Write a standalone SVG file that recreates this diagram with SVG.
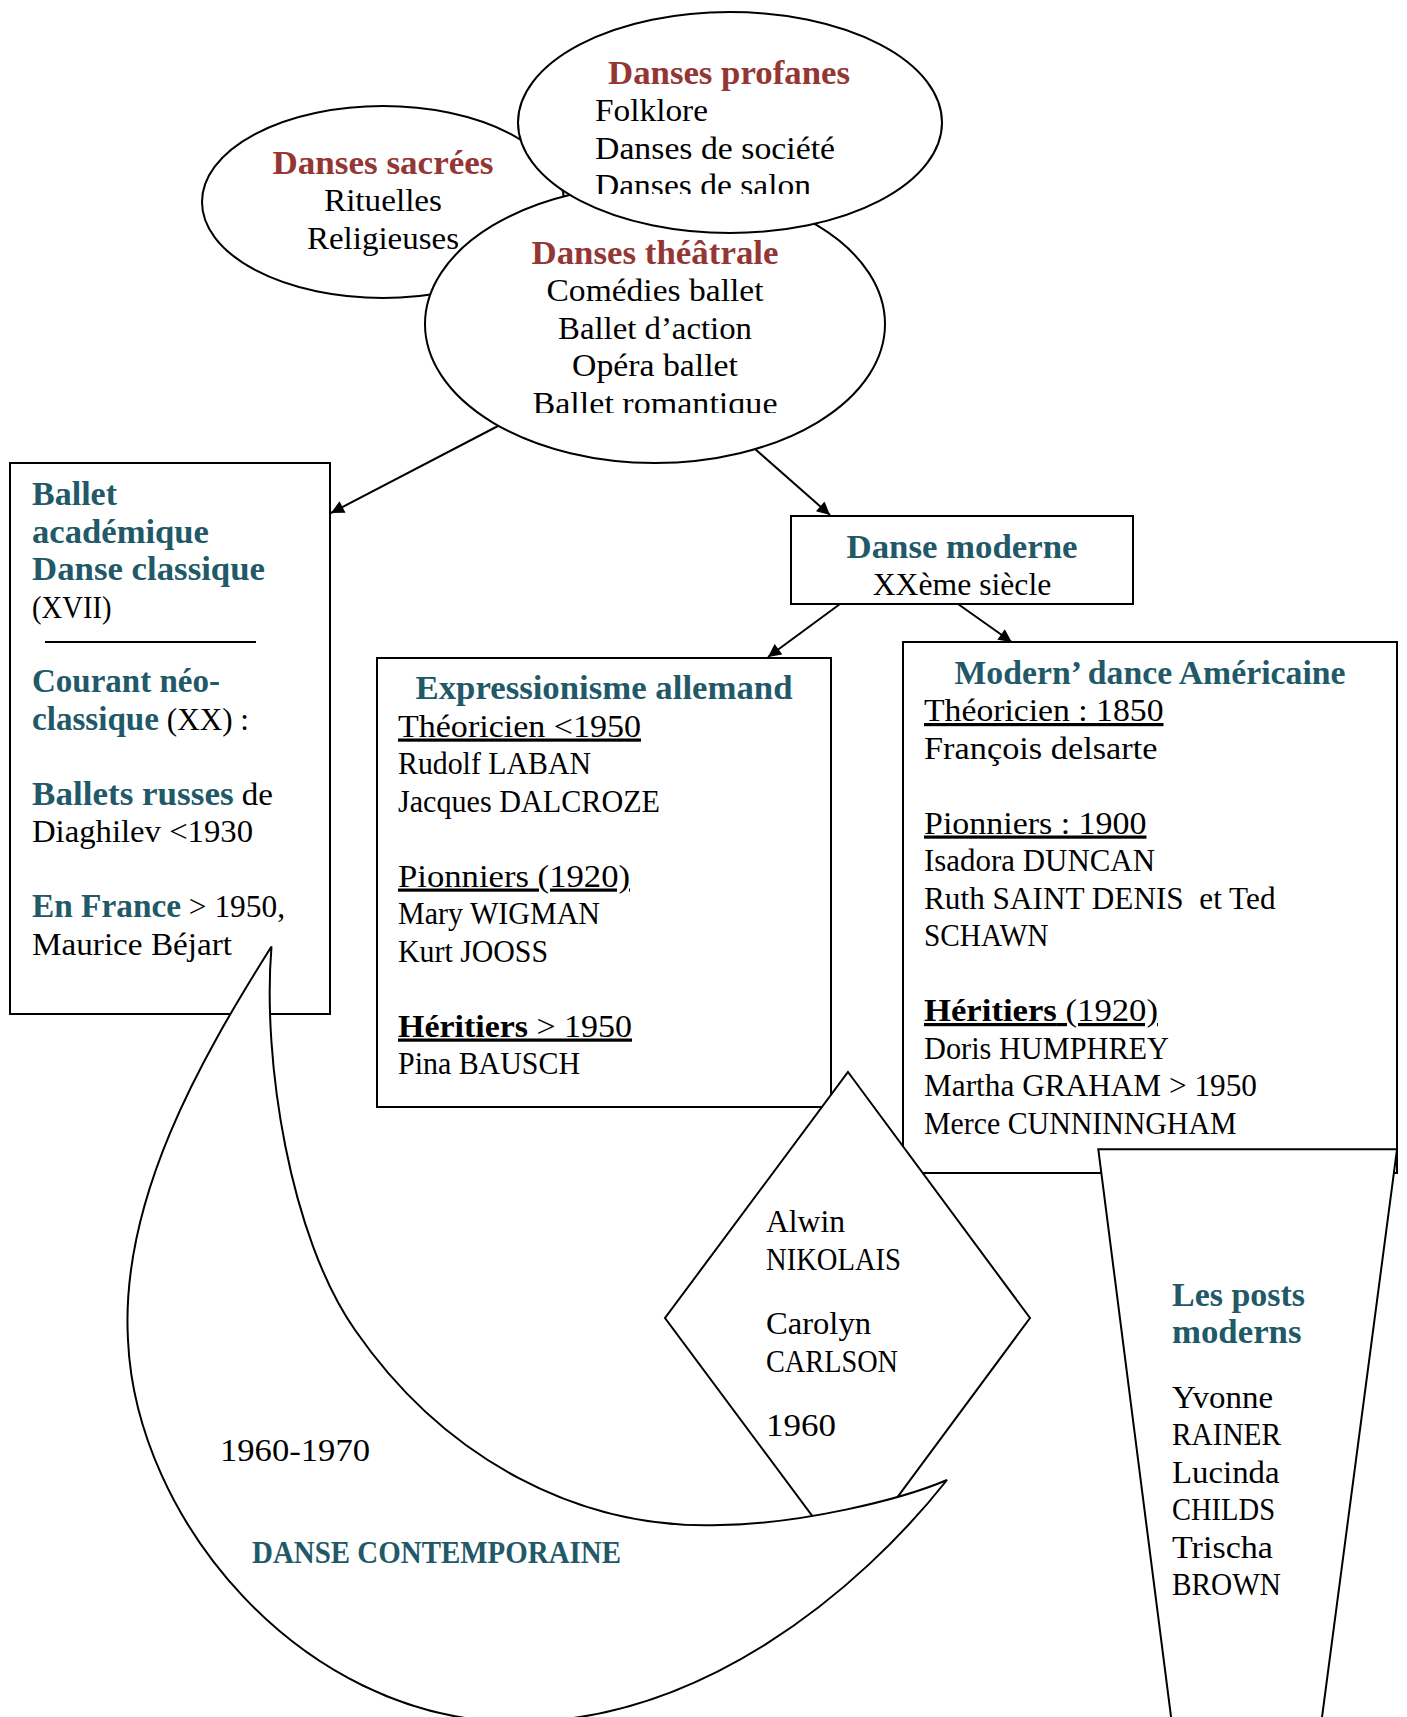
<svg xmlns="http://www.w3.org/2000/svg" width="1407" height="1717" viewBox="0 0 1407 1717">
<style>
.s{fill:#fff;stroke:#000;stroke-width:2}
.t{font-family:"Liberation Serif","Times New Roman",serif;font-size:32px;fill:#000}
.b{font-weight:bold}
.red{fill:#943634;font-weight:bold;font-size:34px}
.teal{fill:#215968;font-weight:bold;font-size:34px}
.tt{fill:#215968;font-weight:bold}
.u{text-decoration:underline}
.c{text-anchor:middle}
.ln{stroke:#000;stroke-width:2;fill:none}
</style>
<defs>
<marker id="ah" viewBox="0 0 10 10" refX="10" refY="5" markerUnits="userSpaceOnUse" markerWidth="17" markerHeight="13" orient="auto">
<path d="M0,0 L10,5 L0,10 z" fill="#000"/>
</marker>
<clipPath id="clipProf"><rect x="500" y="0" width="460" height="194"/></clipPath>
<clipPath id="clipTheat"><rect x="400" y="230" width="500" height="183"/></clipPath>
</defs>
<rect width="1407" height="1717" fill="#fff"/>

<g id="sacrees">
<ellipse class="s" cx="383" cy="202" rx="181" ry="96"/>
<text class="t red c" x="383" y="173.5" textLength="221" lengthAdjust="spacingAndGlyphs">Danses sacrées</text>
<text class="t c" x="383" y="211" textLength="118" lengthAdjust="spacingAndGlyphs">Rituelles</text>
<text class="t c" x="383" y="248.5" textLength="152" lengthAdjust="spacingAndGlyphs">Religieuses</text>
</g>

<g id="theatrale">
<ellipse class="s" cx="655" cy="324" rx="230" ry="139"/>
<g clip-path="url(#clipTheat)">
<text class="t red c" x="655" y="263.5" textLength="247" lengthAdjust="spacingAndGlyphs">Danses théâtrale</text>
<text class="t c" x="655" y="301" textLength="217" lengthAdjust="spacingAndGlyphs">Comédies ballet</text>
<text class="t c" x="655" y="338.5" textLength="194" lengthAdjust="spacingAndGlyphs">Ballet d’action</text>
<text class="t c" x="655" y="376" textLength="166" lengthAdjust="spacingAndGlyphs">Opéra ballet</text>
<text class="t c" x="655" y="414" textLength="245" lengthAdjust="spacingAndGlyphs">Ballet romantique</text>
</g>
</g>

<g id="profanes">
<ellipse class="s" cx="730" cy="122.5" rx="212" ry="110.5"/>
<g clip-path="url(#clipProf)">
<text class="t red c" x="729" y="83.5" textLength="242" lengthAdjust="spacingAndGlyphs">Danses profanes</text>
<text class="t" x="595" y="121" textLength="113" lengthAdjust="spacingAndGlyphs">Folklore</text>
<text class="t" x="595" y="158.5" textLength="240" lengthAdjust="spacingAndGlyphs">Danses de société</text>
<text class="t" x="595" y="196" textLength="216" lengthAdjust="spacingAndGlyphs">Danses de salon</text>
</g>
</g>

<g id="ballet-academique">
<rect class="s" x="10" y="463" width="320" height="551"/>
<text class="t teal" x="32" y="505" textLength="85" lengthAdjust="spacingAndGlyphs">Ballet</text>
<text class="t teal" x="32" y="542.5" textLength="177" lengthAdjust="spacingAndGlyphs">académique</text>
<text class="t teal" x="32" y="580" textLength="233" lengthAdjust="spacingAndGlyphs">Danse classique</text>
<text class="t" x="32" y="617.5" textLength="79.5" lengthAdjust="spacingAndGlyphs">(XVII)</text>
<line class="ln" x1="45" y1="642" x2="256" y2="642"/>
<text class="t" x="32" y="692" textLength="188" lengthAdjust="spacingAndGlyphs"><tspan class="teal">Courant néo-</tspan></text>
<text class="t" x="32" y="729.5" textLength="217" lengthAdjust="spacingAndGlyphs"><tspan class="teal">classique</tspan> (XX) :</text>
<text class="t" x="32" y="804.5" textLength="241" lengthAdjust="spacingAndGlyphs"><tspan class="teal">Ballets russes</tspan> de</text>
<text class="t" x="32" y="842" textLength="221" lengthAdjust="spacingAndGlyphs">Diaghilev &lt;1930</text>
<text class="t" x="32" y="917" textLength="253" lengthAdjust="spacingAndGlyphs"><tspan class="teal">En France</tspan> &gt; 1950,</text>
<text class="t" x="32" y="954.5" textLength="200" lengthAdjust="spacingAndGlyphs">Maurice Béjart</text>
</g>

<g id="danse-moderne">
<rect class="s" x="791" y="516" width="342" height="88"/>
<text class="t teal c" x="962" y="557.5" textLength="231" lengthAdjust="spacingAndGlyphs">Danse moderne</text>
<text class="t c" x="962" y="595" textLength="178.5" lengthAdjust="spacingAndGlyphs">XXème siècle</text>
</g>

<g id="expressionisme">
<rect class="s" x="377" y="658" width="454" height="449"/>
<text class="t teal c" x="604" y="699" textLength="377" lengthAdjust="spacingAndGlyphs">Expressionisme allemand</text>
<text class="t u" x="398" y="736.5" textLength="243" lengthAdjust="spacingAndGlyphs">Théoricien &lt;1950</text>
<text class="t" x="398" y="774" textLength="193" lengthAdjust="spacingAndGlyphs">Rudolf LABAN</text>
<text class="t" x="398" y="811.5" textLength="262" lengthAdjust="spacingAndGlyphs">Jacques DALCROZE</text>
<text class="t u" x="398" y="886.5" textLength="232" lengthAdjust="spacingAndGlyphs">Pionniers (1920)</text>
<text class="t" x="398" y="924" textLength="202" lengthAdjust="spacingAndGlyphs">Mary WIGMAN</text>
<text class="t" x="398" y="961.5" textLength="150" lengthAdjust="spacingAndGlyphs">Kurt JOOSS</text>
<text class="t u" x="398" y="1036.5" textLength="234" lengthAdjust="spacingAndGlyphs"><tspan class="b">Héritiers</tspan> &gt; 1950</text>
<text class="t" x="398" y="1074" textLength="182" lengthAdjust="spacingAndGlyphs">Pina BAUSCH</text>
</g>

<g id="modern-dance">
<rect class="s" x="903" y="642" width="494" height="531"/>
<text class="t teal c" x="1150" y="683.5" textLength="391" lengthAdjust="spacingAndGlyphs">Modern’ dance Américaine</text>
<text class="t u" x="924" y="721" textLength="239.5" lengthAdjust="spacingAndGlyphs">Théoricien : 1850</text>
<text class="t" x="924" y="758.5" textLength="233.5" lengthAdjust="spacingAndGlyphs">François delsarte</text>
<text class="t u" x="924" y="833.5" textLength="222.5" lengthAdjust="spacingAndGlyphs">Pionniers : 1900</text>
<text class="t" x="924" y="871" textLength="231" lengthAdjust="spacingAndGlyphs">Isadora DUNCAN</text>
<text class="t" x="924" y="908.5" xml:space="preserve" textLength="351.5" lengthAdjust="spacingAndGlyphs">Ruth SAINT DENIS  et Ted</text>
<text class="t" x="924" y="946" textLength="124.5" lengthAdjust="spacingAndGlyphs">SCHAWN</text>
<text class="t u" x="924" y="1021" textLength="234" lengthAdjust="spacingAndGlyphs"><tspan class="b">Héritiers</tspan> (1920)</text>
<text class="t" x="924" y="1058.5" textLength="245" lengthAdjust="spacingAndGlyphs">Doris HUMPHREY</text>
<text class="t" x="924" y="1096" textLength="333" lengthAdjust="spacingAndGlyphs">Martha GRAHAM &gt; 1950</text>
<text class="t" x="924" y="1133.5" textLength="312.5" lengthAdjust="spacingAndGlyphs">Merce CUNNINNGHAM</text>
</g>

<g id="post-moderns">
<polygon class="s" points="1098.3,1149.3 1397,1149.3 1319,1740 1174,1740"/>
<text class="t teal" x="1172" y="1306" textLength="133" lengthAdjust="spacingAndGlyphs">Les posts</text>
<text class="t teal" x="1172" y="1342.5" textLength="129.5" lengthAdjust="spacingAndGlyphs">moderns</text>
<text class="t" x="1172" y="1407.5" textLength="101" lengthAdjust="spacingAndGlyphs">Yvonne</text>
<text class="t" x="1172" y="1445" textLength="109" lengthAdjust="spacingAndGlyphs">RAINER</text>
<text class="t" x="1172" y="1482.5" textLength="107.5" lengthAdjust="spacingAndGlyphs">Lucinda</text>
<text class="t" x="1172" y="1520" textLength="103" lengthAdjust="spacingAndGlyphs">CHILDS</text>
<text class="t" x="1172" y="1557.5" textLength="101" lengthAdjust="spacingAndGlyphs">Trischa</text>
<text class="t" x="1172" y="1594.5" textLength="109" lengthAdjust="spacingAndGlyphs">BROWN</text>
</g>

<g id="nikolais-carlson">
<polygon class="s" points="848,1072 1030,1318 848,1564 665,1318"/>
<text class="t" x="766" y="1232" font-size="30" textLength="79" lengthAdjust="spacingAndGlyphs">Alwin</text>
<text class="t" x="766" y="1269.5" font-size="30" textLength="135" lengthAdjust="spacingAndGlyphs">NIKOLAIS</text>
<text class="t" x="766" y="1334" font-size="30" textLength="105" lengthAdjust="spacingAndGlyphs">Carolyn</text>
<text class="t" x="766" y="1371.5" font-size="30" textLength="132" lengthAdjust="spacingAndGlyphs">CARLSON</text>
<text class="t" x="766" y="1435.5" font-size="30" textLength="70" lengthAdjust="spacingAndGlyphs">1960</text>
</g>

<g id="danse-contemporaine">
<path class="s" d="M271.5,946.5 C200,1060 120,1200 128,1340 C136,1520 300,1717 510,1722 C700,1725 860,1590 947,1480 C900,1500 800,1524 720,1525 C580,1530 445,1460 355,1330 C290,1237 262,1060 271.5,946.5 Z"/>
<text class="t" x="220" y="1461" textLength="150" lengthAdjust="spacingAndGlyphs">1960-1970</text>
<text class="t tt" x="252" y="1563" font-size="30" textLength="369" lengthAdjust="spacingAndGlyphs">DANSE CONTEMPORAINE</text>
</g>

<g id="connectors">
<line class="ln" x1="498" y1="426" x2="331" y2="513" marker-end="url(#ah)"/>
<line class="ln" x1="755" y1="449" x2="830" y2="515" marker-end="url(#ah)"/>
<line class="ln" x1="840" y1="604" x2="768" y2="657" marker-end="url(#ah)"/>
<line class="ln" x1="958" y1="604" x2="1011.7" y2="642" marker-end="url(#ah)"/>
</g>
</svg>
